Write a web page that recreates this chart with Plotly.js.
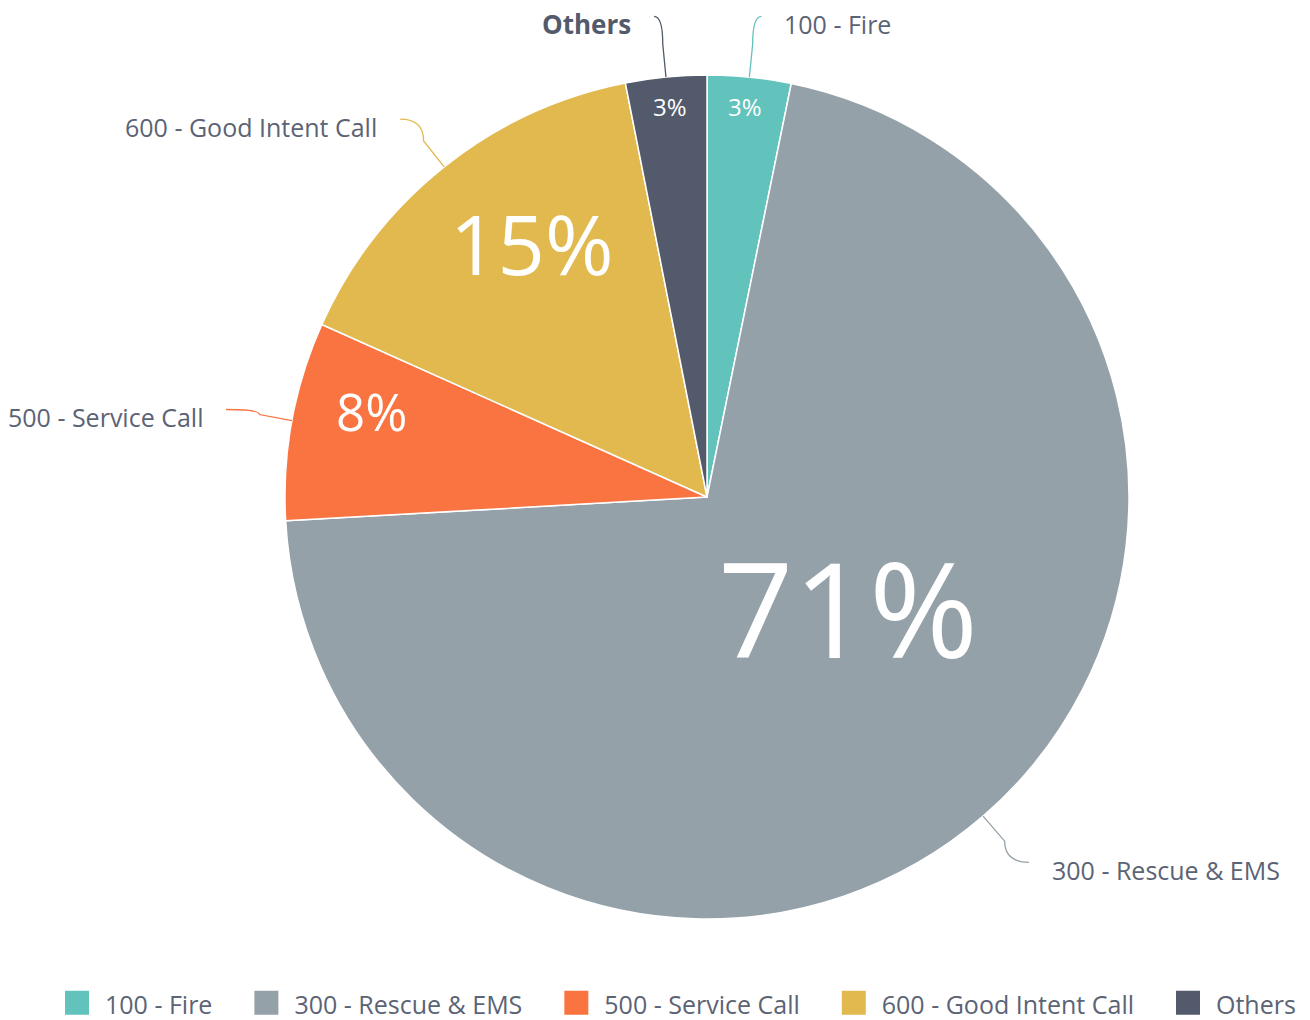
<!DOCTYPE html>
<html><head><meta charset="utf-8">
<script src="https://cdn.plot.ly/plotly-3.0.1.min.js"></script>
<style>html,body{margin:0;padding:0;background:#fff}#chart{width:1310px;height:1020px}</style>
</head><body><div id="chart"></div>
<script>
const categories = ['100 - Fire', '300 - Rescue & EMS', '500 - Service Call', '600 - Good Intent Call', 'Others'];
const values = [3.2, 70.9, 7.6, 15.2, 3.1];
const colors = ['#62c2bc', '#95a1a8', '#f97441', '#e2b94f', '#525a6b'];
const percentFontSizes = [24, 132, 51, 83, 24];
const percentInsets = [44, 207, 81, 141, 44];
const labelBold = [false, false, false, false, true];

const W = 1310, H = 1020, CX = 707, CY = 497, R = 422;
const TEXT = '#5b6375';
const px = x => x / W, py = y => 1 - y / H;
const total = values.reduce((a, b) => a + b, 0);
const shapes = [], annotations = [];
let cum = 0;
values.forEach((v, i) => {
  const mid = (cum + v / 2) / total * 2 * Math.PI; cum += v;
  const ux = Math.sin(mid), uy = -Math.cos(mid);
  const s = ux >= 0 ? 1 : -1;
  const P = [CX + R * ux, CY + R * uy];
  const B = [CX + (R + 33) * ux, CY + (R + 33) * uy];
  const E = [CX + (R + 61) * ux + s * 6, CY + (R + 61) * uy];
  shapes.push({
    type: 'path', xref: 'paper', yref: 'paper',
    path: `M${px(E[0])},${py(E[1])} Q${px(B[0])},${py(E[1])} ${px(B[0])},${py(B[1])} L${px(P[0])},${py(P[1])}`,
    line: {color: colors[i], width: 1.3}
  });
  annotations.push({
    xref: 'paper', yref: 'paper', showarrow: false,
    x: px(E[0] + s * 21), y: py(E[1] + 8),
    xanchor: s > 0 ? 'left' : 'right', yanchor: 'middle',
    text: labelBold[i] ? '<b>' + categories[i] + '</b>' : categories[i],
    font: {family: 'Open Sans', size: labelBold[i] ? 26 : 25, color: labelBold[i] ? '#535a6b' : TEXT}
  });
  const d = R - percentInsets[i];
  const fs = percentFontSizes[i];
  annotations.push({
    xref: 'paper', yref: 'paper', showarrow: false,
    x: px(CX + d * ux), y: py(CY + d * uy - (6 + 0.35 * fs)),
    xanchor: 'center', yanchor: 'middle',
    text: Math.round(v / total * 100) + '%',
    font: {family: 'Open Sans', size: fs, color: '#ffffff'}
  });
});

const trace = {
  type: 'pie', labels: categories, values: values, sort: false,
  direction: 'clockwise', rotation: 0,
  marker: {colors: colors, line: {color: '#ffffff', width: 1.5}},
  textinfo: 'none',
  hoverinfo: 'none',
  domain: {x: [px(CX - R), px(CX + R)], y: [py(CY + R), py(CY - R)]}
};

const layout = {
  width: W, height: H, margin: {l: 0, r: 0, t: 0, b: 0, autoexpand: false},
  paper_bgcolor: '#ffffff', showlegend: true,
  font: {family: 'Open Sans', color: TEXT},
  legend: {orientation: 'h', x: px(28), xanchor: 'left', y: py(1004), yanchor: 'middle',
           itemwidth: 67,
           font: {family: 'Open Sans', size: 25, color: TEXT}, traceorder: 'normal'},
  shapes: shapes, annotations: annotations
};

Plotly.newPlot('chart', [trace], layout, {displayModeBar: false, staticPlot: true}).then(() => {
  document.querySelectorAll('.legend .traces').forEach(tr => {
    const text = tr.querySelector('.legendtext');
    const path = tr.querySelector('.legendpoints path');
    if (!text || !path) return;
    path.removeAttribute('transform');
    path.style.strokeWidth = '0px';
    const bw = path.getBBox().width || 12;
    const k = 24 / bw;
    const tl = text.getBoundingClientRect().left;
    const pe = path.parentNode.getScreenCTM().e;
    path.setAttribute('transform', `translate(${tl - 28 - pe},-1) scale(${k})`);
  });
});
</script></body></html>
